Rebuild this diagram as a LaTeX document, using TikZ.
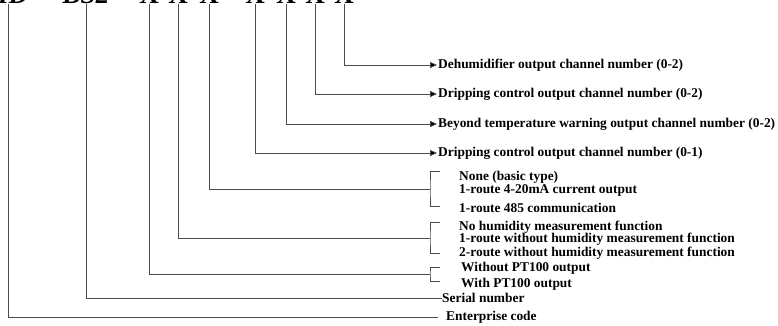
\documentclass[tikz,border=0pt]{standalone}
\usepackage{fontspec}
\setmainfont{Liberation Serif}
\usetikzlibrary{arrows.meta, positioning}

\tikzset{
  lead/.style={draw=black!70, line width=0.7pt},
  tip/.style={lead, -{Triangle[length=7pt,width=6pt,fill=black]}},
  lbl/.style={anchor=west, inner sep=0pt, font=\fontsize{13.4}{14}\selectfont\bfseries},
  digit/.style={anchor=south, inner sep=0pt, font=\fontsize{27}{27}\selectfont\bfseries},
}

\begin{document}
\begin{tikzpicture}[x=1pt, y=-1pt]
  \useasboundingbox (0,0) rectangle (778,326);
  \clip (0,0) rectangle (778,326);
  % model code (top row, cut by the page edge)
  \node[digit, font=\fontsize{27}{27}\selectfont\bfseries\itshape] (hd) at (8,4) {HD};
  \node[digit, font=\fontsize{27}{27}\selectfont\bfseries\itshape] (bs) at (86,4) {BS2};
  \foreach \n/\x in {1/149, 2/178, 3/209, 4/255, 5/286, 6/315, 7/344}
    \node[digit] (x\n) at (\x,4) {X};

  % single outputs
  \node[lbl] (dehum) at (438,65) {Dehumidifier output channel number (0-2)};
  \node[lbl] (drip2) at (438,94) {Dripping control output channel number (0-2)};
  \node[lbl] (warn) at (438,124) {Beyond temperature warning output channel number (0-2)};
  \node[lbl] (drip1) at (438,153) {Dripping control output channel number (0-1)};
  \draw[tip] (x7.south) |- ([xshift=-1pt]dehum.west);
  \draw[tip] (x6.south) |- ([xshift=-1pt]drip2.west);
  \draw[tip] (x5.south) |- ([xshift=-1pt]warn.west);
  \draw[tip] (x4.south) |- ([xshift=-1pt]drip1.west);

  % communication
  \node[lbl] (com0) at (459,177) {None (basic type)};
  \node[lbl] (com1) at (459,190) {1-route 4-20mA current output};
  \node[lbl] (com2) at (459,208) {1-route 485 communication};
  \coordinate (comb) at (430,189);
  \draw[lead] (x3.south) |- (comb);
  \draw[lead] (440,171) -| (comb) |- (440,206);

  % humidity
  \node[lbl] (hum0) at (459,227) {No humidity measurement function};
  \node[lbl] (hum1) at (459,239) {1-route without humidity measurement function};
  \node[lbl] (hum2) at (459,253) {2-route without humidity measurement function};
  \coordinate (humb) at (430,238);
  \draw[lead] (x2.south) |- (humb);
  \draw[lead] (440,222) -| (humb) |- (440,253);

  % PT100
  \node[lbl] (pt0) at (461,268) {Without PT100 output};
  \node[lbl] (pt1) at (461,284) {With PT100 output};
  \coordinate (ptb) at (430,274);
  \draw[lead] (x1.south) |- (ptb);
  \draw[lead] (440,267) -| (ptb) |- (440,281);

  % serial and enterprise
  \node[lbl] (serial) at (442,298) {Serial number};
  \node[lbl] (ent) at (446,317) {Enterprise code};
  \draw[lead] (bs.south) |- (serial.west);
  \draw[lead] (hd.south) |- ([xshift=-8pt]ent.west);
\end{tikzpicture}
\end{document}
